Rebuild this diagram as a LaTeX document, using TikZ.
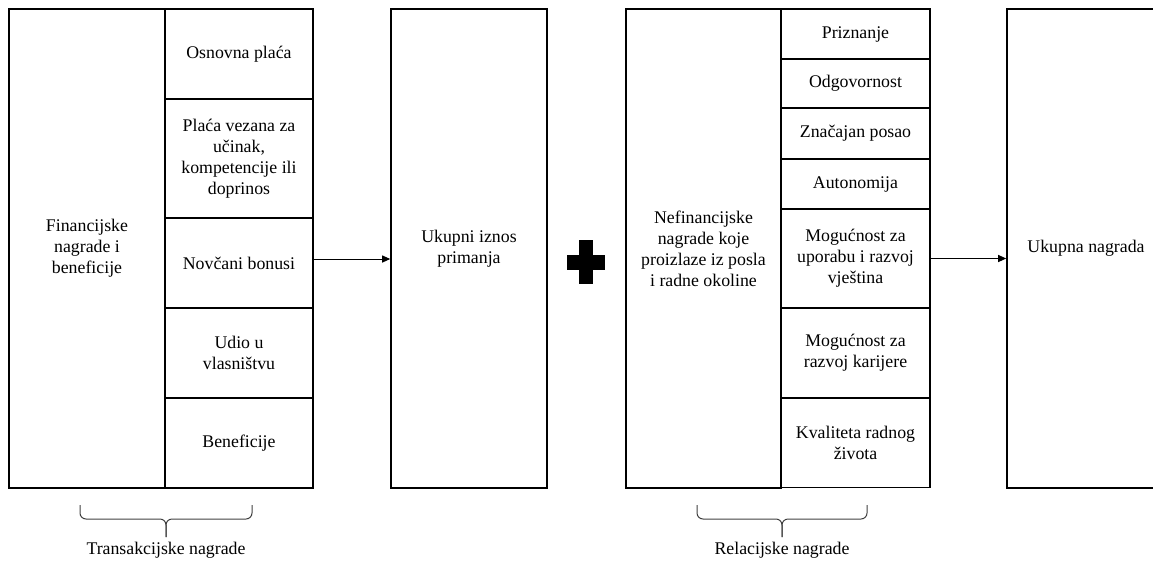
\documentclass[tikz,border=0pt]{standalone}
\usepackage{fontspec}
\setmainfont{Liberation Serif}
\newfontfamily\nagrfont{Liberation Serif}
\usepackage{tikz}
\usetikzlibrary{arrows.meta}

\begin{document}
\begin{tikzpicture}[x=1pt, y=-1pt,
        txt/.style={font=\nagrfont\fontsize{17.8}{21}\selectfont},
        cell/.style={txt, draw, line width=1.6pt, align=center, inner sep=0pt},
        brc/.style={black!75, line width=1pt, rounded corners=6pt},
        arr/.style={-{Triangle[length=8pt, width=7pt]}, line width=1pt}]
        \useasboundingbox (0,0) rectangle (1153,560);
        \clip (0,0) rectangle (1153,560);
        % financijske nagrade
        \node [cell, minimum width=156, minimum height=479] (fin) at (87,248.5) {Financijske\\nagrade i\\beneficije};
        \node [cell, minimum width=148, minimum height=90] (osn) at (239,54) {Osnovna plaća};
        \node [cell, minimum width=148, minimum height=119] (plv) at (239,158.5) {Plaća vezana za\\učinak,\\kompetencije ili\\doprinos};
        \node [cell, minimum width=148, minimum height=90] (nov) at (239,263) {Novčani bonusi};
        \node [cell, minimum width=148, minimum height=90] (udio) at (239,353) {Udio u\\vlasništvu};
        \node [cell, minimum width=148, minimum height=90] (ben) at (239,443) {Beneficije};
        \node [cell, minimum width=156, minimum height=479] (uki) at (469,248.5) {Ukupni iznos\\primanja};
        \coordinate (a1) at ([yshift=4pt]nov.east);
        \draw [arr] (a1) -- (uki.west |- a1);
        % plus
        \fill (579,240) rectangle (593,284);
        \fill (567,255) rectangle (605,270);
        % nefinancijske nagrade
        \node [cell, minimum width=155, minimum height=479] (nef) at (703.5,248.5) {Nefinancijske\\nagrade koje\\proizlaze iz posla\\i radne okoline};
        \node [cell, minimum width=149, minimum height=50] (pri) at (855.5,34) {Priznanje};
        \node [cell, minimum width=149, minimum height=49] (odg) at (855.5,83.5) {Odgovornost};
        \node [cell, minimum width=149, minimum height=51] (zna) at (855.5,133.5) {Značajan posao};
        \node [cell, minimum width=149, minimum height=50] (aut) at (855.5,184) {Autonomija};
        \node [cell, minimum width=149, minimum height=99] (upo) at (855.5,258.5) {Mogućnost za\\uporabu i razvoj\\vještina};
        \node [cell, minimum width=149, minimum height=90] (kar) at (855.5,353) {Mogućnost za\\razvoj karijere};
        \node [cell, minimum width=149, minimum height=89.5] (kva) at (855.5,442.75) {Kvaliteta radnog\\života};
        \node [cell, minimum width=158, minimum height=479] (nag) at (1086,248.5) {Ukupna nagrada};
        \draw [arr] (upo.east) -- (nag.west |- upo.east);
        % zagrade
        \coordinate (t1) at (80,505);
        \coordinate (t2) at (252,505);
        \coordinate (tm) at (166,519);
        \coordinate (r1) at (697,505);
        \coordinate (r2) at (867,505);
        \coordinate (rm) at (782,519);
        \draw [brc] (t1) -- (t1 |- tm) -- (tm) -- ([yshift=-18pt]tm);
        \draw [brc] (t2) -- (t2 |- tm) -- (tm) -- ([yshift=-18pt]tm);
        \draw [brc] (r1) -- (r1 |- rm) -- (rm) -- ([yshift=-18pt]rm);
        \draw [brc] (r2) -- (r2 |- rm) -- (rm) -- ([yshift=-18pt]rm);
        \node [txt] (tlab) at (166,550) {Transakcijske nagrade};
        \node [txt] (rlab) at (782,550) {Relacijske nagrade};
\end{tikzpicture}
\end{document}
